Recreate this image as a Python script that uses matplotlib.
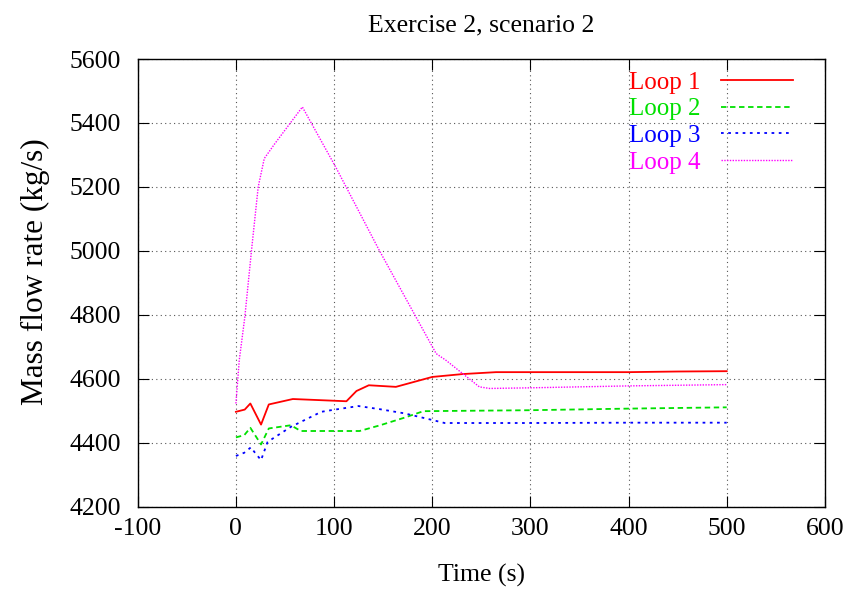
import matplotlib
matplotlib.use("Agg")
import matplotlib.pyplot as plt

plt.rcParams['font.family'] = ['Liberation Serif', 'DejaVu Serif']
plt.rcParams['axes.unicode_minus'] = False

# Loop 1
t1 = [0, 9, 14.7, 25.6, 33.5, 58, 112.6, 122.8, 135.4, 163, 200, 231, 265, 300, 400, 450, 500]
m1 = [4497, 4504, 4523, 4457, 4520, 4537, 4530, 4562, 4580, 4575, 4606, 4615, 4621, 4621, 4621, 4623, 4624]
# Loop 2
t2 = [0, 8.5, 14.7, 25.6, 33.5, 56, 66, 126, 147, 172, 191, 300, 400, 500]
m2 = [4417, 4424, 4447, 4395, 4445, 4455, 4437, 4437, 4455, 4479, 4499, 4502, 4507, 4511]
# Loop 3
t3 = [0, 8.5, 15.3, 18.7, 25.6, 32.3, 56, 87, 99, 124.8, 147, 172, 200.6, 212.6, 300, 400, 500]
m3 = [4359, 4369, 4386, 4372, 4346, 4403, 4450, 4497, 4503, 4515, 4505, 4492, 4471, 4462, 4462, 4463, 4463]
# Loop 4
t4 = [0, 3.4, 9.1, 15.9, 22.7, 28.9, 39.8, 67.7, 101.7, 146, 204, 214, 248, 258.5, 300, 400, 500]
m4 = [4523, 4658, 4794, 5002, 5200, 5289, 5336, 5450, 5262, 5002, 4679, 4658, 4575, 4570, 4572, 4578, 4582]

labels = ['Loop 1', 'Loop 2', 'Loop 3', 'Loop 4']
colors = ['#ff0000', '#00e000', '#0000ff', '#ff00ff']

fig = plt.figure(figsize=(8.61, 5.90), dpi=100)
ax = fig.add_axes([0.160, 0.141, 0.798, 0.759])

ax.plot(t1, m1, color=colors[0], lw=1.3, ls='-', label=labels[0])
ax.plot(t2, m2, color=colors[1], lw=1.3, ls=(0, (3, 2)), label=labels[1])
ax.plot(t3, m3, color=colors[2], lw=1.3, ls=(0, (1.5, 2.5)), label=labels[2])
ax.plot(t4, m4, color=colors[3], lw=1.0, ls=(0, (1, 1)), label=labels[3])

ax.set_xlim(-100, 600)
ax.set_ylim(4200, 5600)
ax.set_xticks(range(-100, 601, 100))
ax.set_yticks(range(4200, 5601, 200))
ax.grid(True, color='#555555', ls=(0, (1, 3)), lw=0.8)
ax.tick_params(direction='in', top=True, right=True, length=8, labelsize=18.5)
ax.tick_params(axis='y', pad=12)
ax.tick_params(axis='x', pad=8)
for s in ax.spines.values():
    s.set_linewidth(1.0)

ax.set_title('Exercise 2, scenario 2', fontsize=18.5, pad=20)
ax.set_xlabel('Time (s)', fontsize=18.5, labelpad=17)
ax.set_ylabel('Mass flow rate (kg/s)', fontsize=22.5)
ax.yaxis.set_label_coords(-0.128, 0.526)

leg = ax.legend(loc='upper right', bbox_to_anchor=(0.9534, 0.973), frameon=False,
                markerfirst=False, fontsize=18, labelcolor='linecolor',
                handlelength=2.88, handletextpad=0.8, borderaxespad=0,
                borderpad=0, labelspacing=0.17)

fig.savefig('out.png', dpi=100)
